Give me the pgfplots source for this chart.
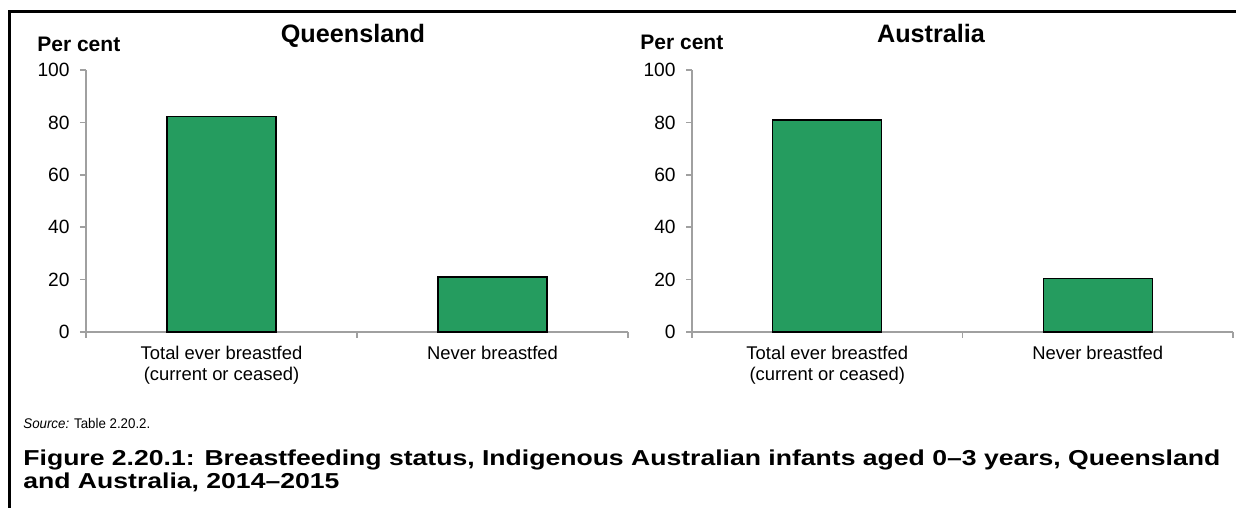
\documentclass[border=0pt]{standalone}
\usepackage{pgfplots}
\pgfplotsset{compat=1.18}
\usepackage{graphicx}
\usepackage{fontspec}
\setmainfont{Liberation Sans}

\definecolor{barg}{HTML}{259C5F}
\definecolor{axgray}{HTML}{A0A0A0}

% 1 px of the reference = 0.5pt
\pgfplotsset{
  panel/.style={
    scale only axis,
    height=131pt,
    anchor=south west,
    ymin=0, ymax=100,
    ytick={0,20,40,60,80,100},
    xmin=-0.5, xmax=1.5,
    xtick={-0.5,0.5,1.5},
    xticklabels={},
    extra x ticks={0,1},
    extra x tick labels={{Total ever breastfed\\(current or ceased)},{Never breastfed}},
    extra x tick style={tick style={draw=none}},
    axis x line=bottom, axis y line=left,
    axis line style={-, draw=axgray, line width=0.75pt},
    tick style={draw=axgray, line width=0.75pt},
    tick align=outside,
    major tick length=3pt,
    /pgf/number format/assume math mode=true,
    yticklabel style={font=\fontsize{9.6}{11}\selectfont, inner sep=0pt, xshift=-5pt},
    xticklabel style={font=\fontsize{9.2}{10.2}\selectfont, align=center, inner sep=0pt, yshift=-4pt},
    clip=false,
  },
  greenbar/.style={ybar, bar width=54.5pt, fill=barg, draw=black, line width=0.6pt},
}

\begin{document}
\begin{tikzpicture}
\useasboundingbox (0,0) rectangle (618pt,254pt);

% frame
\draw[line width=1.5pt] (4.5pt,0) -- (4.5pt,248pt) -- (619pt,248pt);

% Queensland
\begin{axis}[panel, width=271pt, at={(43pt,88pt)}]
  \addplot[greenbar] coordinates {(0,82.3) (1,21.0)};
\end{axis}
\node[anchor=base, font=\fontsize{12.6}{14}\selectfont\bfseries] at (176.5pt,232.5pt) {Queensland};
\node[anchor=base west, font=\fontsize{10.5}{12}\selectfont\bfseries, inner sep=0pt] at (18.5pt,228pt) {Per cent};

% Australia
\begin{axis}[panel, width=270.5pt, at={(346pt,88pt)}]
  \addplot[greenbar] coordinates {(0,80.9) (1,20.3)};
\end{axis}
\node[anchor=base, font=\fontsize{12.6}{14}\selectfont\bfseries] at (465.5pt,232.5pt) {Australia};
\node[anchor=base west, font=\fontsize{10.5}{12}\selectfont\bfseries, inner sep=0pt] at (320pt,229pt) {Per cent};

% source and caption
\node[anchor=west, inner sep=0pt, font=\fontsize{7}{8}\selectfont] at (11.5pt,42.5pt) {\scalebox{0.95}[1]{\textit{Source:} Table 2.20.2.}};
\node[anchor=west, inner sep=0pt, font=\fontsize{10.8}{11}\selectfont\bfseries] at (11.5pt,24pt)
  {\scalebox{1.23}[1]{Figure 2.20.1: Breastfeeding status, Indigenous Australian infants aged 0–3 years, Queensland}};
\node[anchor=west, inner sep=0pt, font=\fontsize{10.8}{11}\selectfont\bfseries] at (11.5pt,13pt)
  {\scalebox{1.23}[1]{and Australia, 2014–2015}};
\end{tikzpicture}
\end{document}
